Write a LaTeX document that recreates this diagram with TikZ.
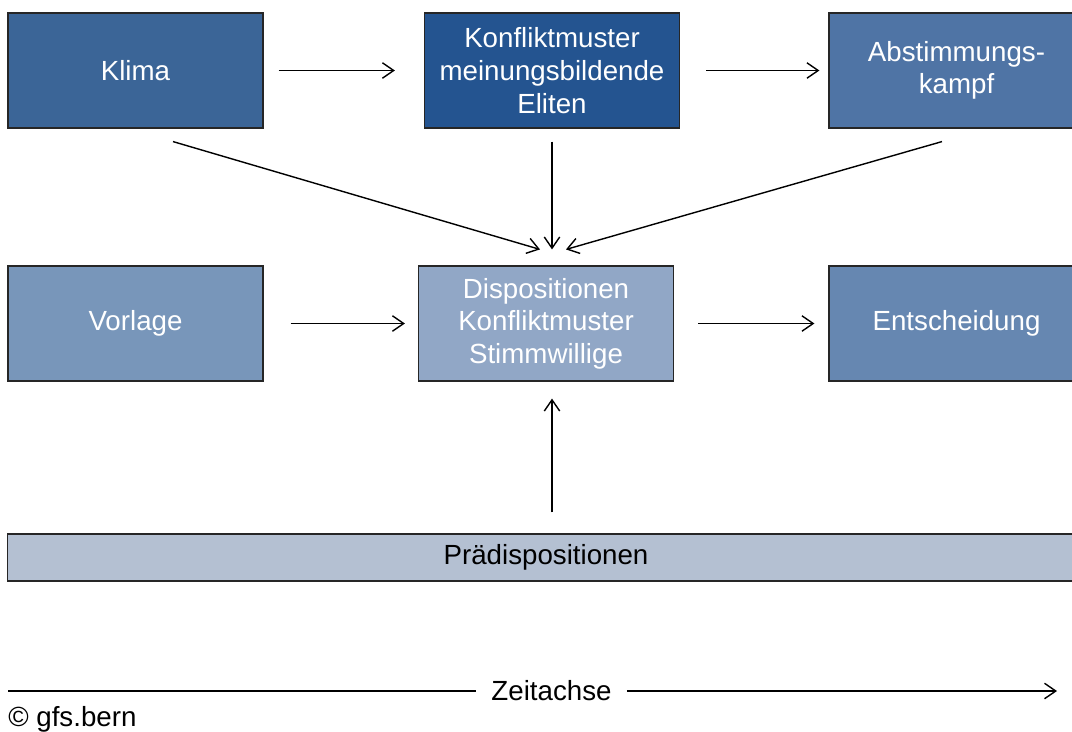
\documentclass[tikz,border=0pt]{standalone}
\usepackage{fontspec}
\setmainfont{Liberation Sans}
\usetikzlibrary{arrows.meta,positioning,calc}

\definecolor{klimablue}{HTML}{3B6597}
\definecolor{eliteblue}{HTML}{245490}
\definecolor{kampfblue}{HTML}{4F74A5}
\definecolor{vorlageblue}{HTML}{7896BA}
\definecolor{dispoblue}{HTML}{91A7C6}
\definecolor{entscheidblue}{HTML}{6687B1}
\definecolor{praedblue}{HTML}{B4C0D2}

\begin{document}
\begin{tikzpicture}[
			x=0.025cm, y=-0.025cm,
			block/.style={rectangle, draw=black!85, line width=0.8pt, minimum width=6.375cm, minimum height=2.875cm, text centered, align=center, text=white, font=\fontsize{19.7}{23.2}\selectfont},
			arrow/.style={-{Straight Barb[length=8pt,width=11pt]}, line width=1pt},
			axislabel/.style={inner sep=0.375cm, font=\fontsize{19.7}{23.2}\selectfont}
		]
		\path[use as bounding box, clip] (0,0) rectangle (1072,731);
		% Nodes
		\node[block, fill=klimablue] (klima) at (135.5,70.5) {Klima};
		\node[block, fill=eliteblue] (eliten) at (552,70.5) {Konfliktmuster\\meinungsbildende\\Eliten};
		\node[block, fill=kampfblue] (kampf) at (956.5,70.5) {Abstimmungs-\\kampf};
		\node[block, fill=vorlageblue] (vorlage) at (135.5,323.5) {Vorlage};
		\node[block, fill=dispoblue] (dispo) at (546,323.5) {Dispositionen\\Konfliktmuster\\Stimmwillige};
		\node[block, fill=entscheidblue] (entscheid) at (956.5,323.5) {Entscheidung};
		\node[block, fill=praedblue, text=black, minimum width=26.9cm, minimum height=1.175cm] (praed) at (546,557.5) {Prädispositionen};
		\node[axislabel] (zeit) at (551.5,691) {Zeitachse};
		\node[anchor=base west, inner sep=0pt, font=\fontsize{19.7}{23.2}\selectfont] (copy) at (8,726) {© gfs.bern};
		\coordinate (axisL) at (8,691);
		\coordinate (axisR) at (1057,691);
		% Arrows
		\draw[arrow, shorten <=0.375cm, shorten >=0.725cm] (klima.east) -- (eliten.west);
		\draw[arrow, shorten <=0.65cm, shorten >=0.225cm] (eliten.east) -- (kampf.west);
		\draw[arrow, shorten <=0.675cm, shorten >=0.325cm] (vorlage.east) -- (dispo.west);
		\draw[arrow, shorten <=0.6cm, shorten >=0.35cm] (dispo.east) -- (entscheid.west);
		\draw[arrow] ($(klima.south)+(37.5,13)$) -- ($(dispo.north)+(-6,-16)$);
		\draw[arrow] ($(eliten.south)+(0,13)$) -- ($(dispo.north -| eliten.south)+(0,-16)$);
		\draw[arrow] ($(kampf.south)+(-14.5,13)$) -- ($(dispo.north)+(20,-16)$);
		\draw[arrow] ($(praed.north -| eliten.south)+(0,-21)$) -- ($(dispo.south -| eliten.south)+(0,17)$);
		% Zeitachse
		\draw[line width=1pt] (axisL) -- (zeit);
		\draw[arrow] (zeit) -- (axisR);
	\end{tikzpicture}
\end{document}
